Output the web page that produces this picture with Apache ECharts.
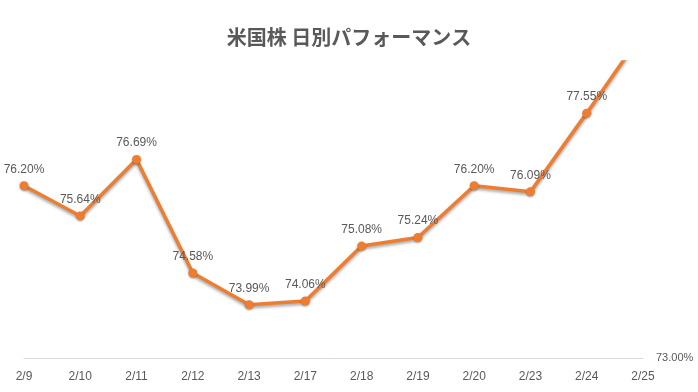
<!DOCTYPE html>
<html><head><meta charset="utf-8">
<script src="https://cdn.jsdelivr.net/npm/echarts@6/dist/echarts.min.js"></script>
<style>html,body{margin:0;padding:0;background:#fff}#c{width:698px;height:392px}</style>
</head><body><div id="c"></div>
<script>
const categories = ['2/9','2/10','2/11','2/12','2/13','2/17','2/18','2/19','2/20','2/23','2/24','2/25'];
const values = [76.20, 75.64, 76.69, 74.58, 73.99, 74.06, 75.08, 75.24, 76.20, 76.09, 77.55, 79.05];
const yMin = 73, yMax = 78.5;
const chart = echarts.init(document.getElementById('c'));
chart.setOption({
  animation: false,
  backgroundColor: '#fff',
  title: {
    text: '米国株 日別パフォーマンス', left: 'center', top: 22,
    textStyle: {fontFamily: 'Noto Sans CJK JP', fontSize: 20, fontWeight: 'bold', color: '#595959'}
  },
  grid: {left: 24, right: 55, top: 62, bottom: 34},
  xAxis: {
    type: 'category', data: categories, boundaryGap: false,
    axisLine: {lineStyle: {color: '#d9d9d9'}}, axisTick: {show: false},
    axisLabel: {color: '#595959', fontSize: 12, margin: 13, fontFamily: 'Liberation Sans'}
  },
  yAxis: {
    type: 'value', position: 'right', min: yMin, max: yMax, interval: 5.5,
    splitLine: {show: false}, axisLine: {show: false}, axisTick: {show: false},
    axisLabel: {color: '#595959', fontSize: 11, margin: 13, fontFamily: 'Liberation Sans',
      formatter: v => v === yMin ? v.toFixed(2) + '%' : ''}
  },
  series: [{
    type: 'line', data: values, clip: true,
    symbol: 'circle', symbolSize: 9,
    lineStyle: {color: '#ED7D31', width: 3.5, shadowColor: 'rgba(0,0,0,0.35)', shadowBlur: 3, shadowOffsetY: 2},
    itemStyle: {color: '#ED7D31', shadowColor: 'rgba(0,0,0,0.3)', shadowBlur: 2, shadowOffsetY: 1},
    label: {show: true, position: 'top', distance: 6, color: '#595959', fontSize: 12, fontFamily: 'Liberation Sans',
      formatter: p => p.value.toFixed(2) + '%'}
  }]
});
</script></body></html>
